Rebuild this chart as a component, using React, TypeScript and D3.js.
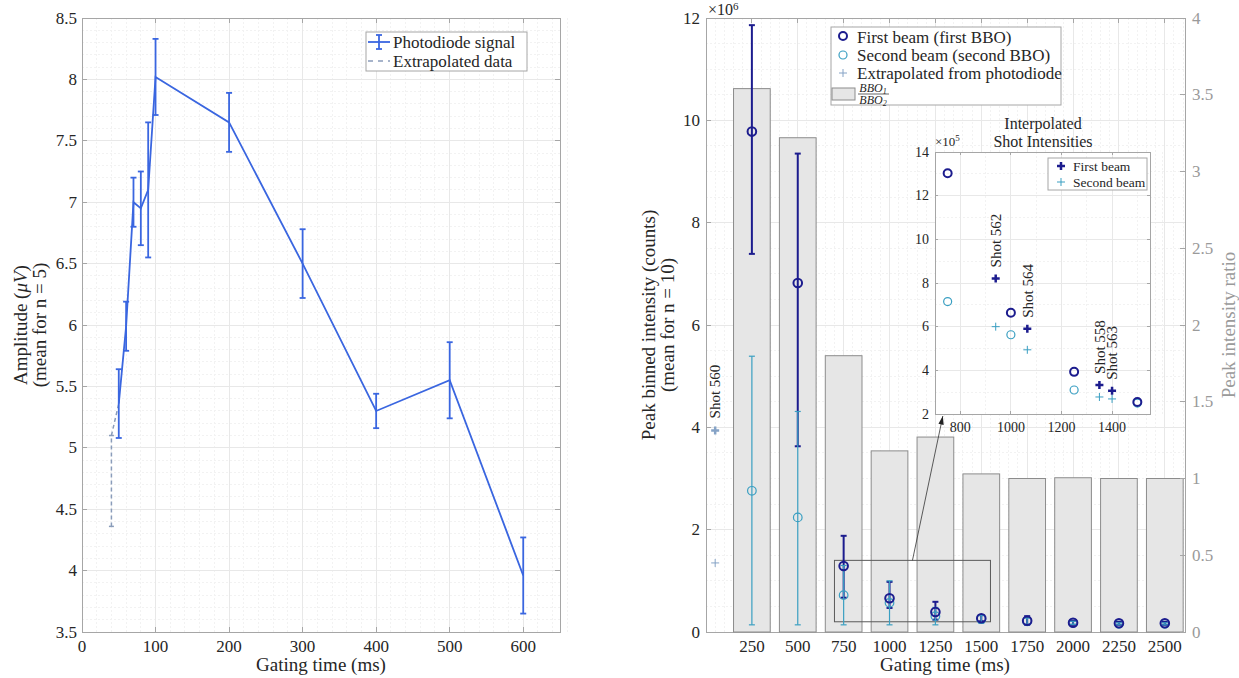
import React from "react";
import * as d3 from "d3";

// ---- left panel: photodiode signal ----
const pdTime = [50, 60, 70, 80, 90, 100, 200, 300, 400, 500, 600];
const pdAmp = [5.36, 5.99, 7.0, 6.95, 7.1, 8.02, 7.65, 6.5, 5.3, 5.55, 3.96];
const pdErr = [0.28, 0.2, 0.2, 0.3, 0.55, 0.31, 0.24, 0.28, 0.14, 0.31, 0.31];
const exTime = [40];
const exAmp = [5.02];
const exLow = [4.36];
const exHigh = [5.1];

// ---- right panel: binned intensities (x1e6) and BBO ratio ----
const gating = [250, 500, 750, 1000, 1250, 1500, 1750, 2000, 2250, 2500];
const ratio = [3.54, 3.22, 1.8, 1.18, 1.27, 1.03, 1.0, 1.005, 1.0, 1.0];
const firstBeam = [9.78, 6.82, 1.29, 0.66, 0.39, 0.27, 0.22, 0.18, 0.17, 0.17];
const firstLow = [7.39, 3.63, 0.67, 0.47, 0.24, 0.21, 0.14, 0.14, 0.14, 0.14];
const firstHigh = [11.86, 9.35, 1.88, 0.98, 0.59, 0.33, 0.31, 0.22, 0.2, 0.2];
const secondBeam = [2.76, 2.24, 0.72, 0.57, 0.31, 0.25, 0.21, 0.18, 0.16, 0.16];
const secondLow = [0.14, 0.14, 0.14, 0.14, 0.14, 0.17, 0.15, 0.15, 0.14, 0.14];
const secondHigh = [5.39, 4.31, 1.3, 1.0, 0.48, 0.33, 0.27, 0.21, 0.18, 0.18];
const extrapTime = [50];
const extrapFirst = [3.94];
const extrapSecond = [1.35];
const extrapName = ["Shot 560"];

// ---- inset (x1e5) ----
const insetTime = [750, 1000, 1250, 1500];
const insetFirst = [13.03, 6.64, 3.93, 2.55];
const insetSecond = [7.15, 5.63, 3.1, 2.5];
const shotTime = [940, 1065, 1350, 1400];
const shotNames = ["Shot 562", "Shot 564", "Shot 558", "Shot 563"];
const shotFirst = [8.21, 5.9, 3.33, 3.06];
const shotSecond = [6.0, 4.94, 2.78, 2.69];

const FONT = "'Liberation Serif', 'Times New Roman', serif";
const AX = "#a6a6a6";
const TXT = "#262626";
const GRAYTXT = "#9a9a9a";
const GRID = "#e8e8e8";
const GRIDMINOR = "#f2f2f2";
const pdBlue = "#3a66e0";
const exColor = "#8a9cba";
const navy = "#1c1c8e";
const teal = "#3a9fc2";
const extrapColor = "#86a3c6";

const rng = (a: number, b: number, s: number) => d3.range(Math.round(a / s), Math.round(b / s) + 1).map((k) => +(k * s).toFixed(6));

function Frame({ x, y, xMajor, xMinor, yMajor, yMinor, tick = 5, rightTicks = true }: any) {
  const [x0, x1] = x.range();
  const [y0, y1] = y.range();
  return (
    <g shapeRendering="crispEdges">
      {xMinor.map((v: number, i: number) => (
        <line key={"xm" + i} x1={x(v)} x2={x(v)} y1={y0} y2={y1} stroke={GRIDMINOR} strokeDasharray="2,2" />
      ))}
      {yMinor.map((v: number, i: number) => (
        <line key={"ym" + i} x1={x0} x2={x1} y1={y(v)} y2={y(v)} stroke={GRIDMINOR} strokeDasharray="2,2" />
      ))}
      {xMajor.map((v: number, i: number) => (
        <line key={"xg" + i} x1={x(v)} x2={x(v)} y1={y0} y2={y1} stroke={GRID} />
      ))}
      {yMajor.map((v: number, i: number) => (
        <line key={"yg" + i} x1={x0} x2={x1} y1={y(v)} y2={y(v)} stroke={GRID} />
      ))}
      {xMajor.map((v: number, i: number) => (
        <g key={"xt" + i}>
          <line x1={x(v)} x2={x(v)} y1={y0} y2={y0 - tick} stroke={AX} />
          <line x1={x(v)} x2={x(v)} y1={y1} y2={y1 + tick} stroke={AX} />
        </g>
      ))}
      {yMajor.map((v: number, i: number) => (
        <g key={"yt" + i}>
          <line x1={x0} x2={x0 + tick} y1={y(v)} y2={y(v)} stroke={AX} />
          {rightTicks && <line x1={x1} x2={x1 - tick} y1={y(v)} y2={y(v)} stroke={AX} />}
        </g>
      ))}
      <rect x={x0} y={y1} width={x1 - x0} height={y0 - y1} fill="none" stroke={AX} />
    </g>
  );
}

function ErrBar({ cx, lo, hi, color, w = 1.5, cap = 3, dash }: any) {
  return (
    <g stroke={color} strokeWidth={w} strokeDasharray={dash}>
      <line x1={cx} x2={cx} y1={lo} y2={hi} />
      <line x1={cx - cap} x2={cx + cap} y1={lo} y2={lo} strokeDasharray="none" />
      <line x1={cx - cap} x2={cx + cap} y1={hi} y2={hi} strokeDasharray="none" />
    </g>
  );
}

function Plus({ cx, cy, s, color, w }: any) {
  return <path d={`M${cx - s},${cy}H${cx + s}M${cx},${cy - s}V${cy + s}`} stroke={color} strokeWidth={w} fill="none" />;
}

function LeftPanel() {
  const x = d3.scaleLinear().domain([0, 650]).range([82, 560]);
  const y = d3.scaleLinear().domain([3.5, 8.5]).range([632, 18]);
  const xMajor = rng(0, 600, 100);
  const yMajor = rng(3.5, 8.5, 0.5);
  const line = d3
    .line<number>()
    .x((_, i) => x(pdTime[i]))
    .y((d) => y(d));
  const exLine = d3
    .line<[number, number]>()
    .x((d) => x(d[0]))
    .y((d) => y(d[1]));
  return (
    <g>
      <Frame x={x} y={y} xMajor={xMajor} xMinor={rng(0, 650, 20)} yMajor={yMajor} yMinor={rng(3.5, 8.5, 0.1)} />
      {exTime.map((t, i) => (
        <g key={"ex" + i}>
          <ErrBar cx={x(t)} lo={y(exLow[i])} hi={y(exHigh[i])} color={exColor} w={1.5} cap={2.5} dash="4,3" />
          <path d={exLine([[t, exHigh[i]], [pdTime[0], pdAmp[0]]]) || ""} stroke={exColor} strokeWidth={1.5} strokeDasharray="4,3" fill="none" />
        </g>
      ))}
      <path d={line(pdAmp) || ""} fill="none" stroke={pdBlue} strokeWidth={1.8} />
      {pdTime.map((t, i) => (
        <ErrBar key={"pe" + i} cx={x(t)} lo={y(pdAmp[i] - pdErr[i])} hi={y(pdAmp[i] + pdErr[i])} color={pdBlue} w={1.8} cap={3} />
      ))}
      <g fontFamily={FONT} fill={TXT} fontSize={17}>
        {xMajor.map((v, i) => (
          <text key={"xl" + i} x={x(v)} y={646} textAnchor="middle" dominantBaseline="central">
            {v}
          </text>
        ))}
        {yMajor.map((v, i) => (
          <text key={"yl" + i} x={77} y={y(v)} textAnchor="end" dominantBaseline="central">
            {v}
          </text>
        ))}
        <text x={321} y={664} textAnchor="middle" dominantBaseline="central" fontSize={19}>
          Gating time (ms)
        </text>
        <g transform="translate(20,325) rotate(-90)">
          <text textAnchor="middle" dominantBaseline="central" fontSize={19}>
            Amplitude (<tspan fontStyle="italic">μV</tspan>)
          </text>
          <text y={19} textAnchor="middle" dominantBaseline="central" fontSize={19}>
            (mean for n = 5)
          </text>
        </g>
      </g>
      <g>
        <rect x={366} y={32} width={161} height={39} fill="#fff" stroke={AX} />
        <line x1={368} x2={390} y1={42} y2={42} stroke={pdBlue} strokeWidth={1.8} />
        <ErrBar cx={379} lo={49} hi={35} color={pdBlue} w={1.8} cap={3} />
        <line x1={368} x2={390} y1={61} y2={61} stroke={exColor} strokeWidth={1.5} strokeDasharray="5,5" />
        <g fontFamily={FONT} fill={TXT} fontSize={17}>
          <text x={393} y={42} dominantBaseline="central">Photodiode signal</text>
          <text x={393} y={61} dominantBaseline="central">Extrapolated data</text>
        </g>
      </g>
    </g>
  );
}

function RightPanel() {
  const x = d3.scaleLinear().domain([0, 2610]).range([706, 1185]);
  const y = d3.scaleLinear().domain([0, 12]).range([632, 18]);
  const yr = d3.scaleLinear().domain([0, 4]).range([632, 18]);
  const yMajor = rng(0, 12, 2);
  const rMajor = rng(0, 4, 0.5);
  const bw = x(200) - x(0);

  // inset scales
  const ix = d3.scaleLinear().domain([700, 1550]).range([935, 1150]);
  const iy = d3.scaleLinear().domain([2, 14]).range([414, 152]);
  const ixMajor = [800, 1000, 1200, 1400];
  const iyMajor = rng(2, 14, 2);

  const arrowStart: [number, number] = [x(1125), y(1.4)];
  const arrowEnd: [number, number] = [ix(731), iy(2) + 2];
  const ang = Math.atan2(arrowEnd[1] - arrowStart[1], arrowEnd[0] - arrowStart[0]);
  const ah = 9;
  const a1 = [arrowEnd[0] - ah * Math.cos(ang - 0.3), arrowEnd[1] - ah * Math.sin(ang - 0.3)];
  const a2 = [arrowEnd[0] - ah * Math.cos(ang + 0.3), arrowEnd[1] - ah * Math.sin(ang + 0.3)];

  return (
    <g>
      <Frame x={x} y={y} xMajor={gating} xMinor={rng(0, 2600, 50)} yMajor={yMajor} yMinor={rng(0, 12, 0.5)} rightTicks={false} />
      {gating.map((g, i) => (
        <rect key={"b" + i} x={x(g) - bw / 2} y={yr(ratio[i])} width={bw} height={yr(0) - yr(ratio[i])} fill="#e6e6e6" stroke="#8c8c8c" strokeWidth={1} />
      ))}
      {rMajor.map((v, i) => (
        <line key={"rt" + i} x1={1185} x2={1180} y1={yr(v)} y2={yr(v)} stroke={AX} shapeRendering="crispEdges" />
      ))}
      {/* zoom box */}
      <rect x={x(700)} y={y(1.4)} width={x(1550) - x(700)} height={y(0.2) - y(1.4)} fill="none" stroke="#5a5a5a" strokeWidth={1} />
      {gating.map((g, i) => (
        <ErrBar key={"fe" + i} cx={x(g)} lo={y(firstLow[i])} hi={y(firstHigh[i])} color={navy} w={2} cap={3} />
      ))}
      {gating.map((g, i) => (
        <ErrBar key={"se" + i} cx={x(g)} lo={y(secondLow[i])} hi={y(secondHigh[i])} color={teal} w={1.2} cap={3} />
      ))}
      {gating.map((g, i) => (
        <circle key={"sc" + i} cx={x(g)} cy={y(secondBeam[i])} r={4.3} fill="none" stroke={teal} strokeWidth={1.2} />
      ))}
      {gating.map((g, i) => (
        <circle key={"fc" + i} cx={x(g)} cy={y(firstBeam[i])} r={4.3} fill="none" stroke={navy} strokeWidth={2} />
      ))}
      {extrapTime.map((t, i) => (
        <g key={"xp" + i}>
          <Plus cx={x(t)} cy={y(extrapFirst[i])} s={4} color={extrapColor} w={2.5} />
          <Plus cx={x(t)} cy={y(extrapSecond[i])} s={4} color={extrapColor} w={1} />
          <text transform={`translate(${x(t)},${y(extrapFirst[i]) - 12}) rotate(-90)`} dy="0.35em" fontFamily={FONT} fontSize={15} fill={TXT}>
            {extrapName[i]}
          </text>
        </g>
      ))}
      {/* arrow */}
      <line x1={arrowStart[0]} y1={arrowStart[1]} x2={arrowEnd[0]} y2={arrowEnd[1]} stroke="#333" strokeWidth={0.8} />
      <path d={`M${arrowEnd[0]},${arrowEnd[1]}L${a1[0]},${a1[1]}L${a2[0]},${a2[1]}Z`} fill="#222" />

      {/* axis text */}
      <g fontFamily={FONT} fontSize={17}>
        {gating.map((g, i) => (
          <text key={"xl" + i} x={x(g)} y={646} textAnchor="middle" dominantBaseline="central" fill={TXT}>
            {g}
          </text>
        ))}
        {yMajor.map((v, i) => (
          <text key={"yl" + i} x={700} y={y(v)} textAnchor="end" dominantBaseline="central" fill={TXT}>
            {v}
          </text>
        ))}
        {rMajor.map((v, i) => (
          <text key={"rl" + i} x={1192} y={yr(v)} dominantBaseline="central" fill={GRAYTXT}>
            {v}
          </text>
        ))}
        <text x={708} y={15} fill={TXT} fontSize={16}>
          ×10<tspan dy={-5} fontSize={11}>6</tspan>
        </text>
        <text x={945} y={664} textAnchor="middle" dominantBaseline="central" fill={TXT} fontSize={19}>
          Gating time (ms)
        </text>
        <g transform="translate(648,325) rotate(-90)" fill={TXT} fontSize={19}>
          <text textAnchor="middle" dominantBaseline="central">Peak binned intensity (counts)</text>
          <text y={19} textAnchor="middle" dominantBaseline="central">(mean for n = 10)</text>
        </g>
        <text transform="translate(1228,325) rotate(-90)" textAnchor="middle" dominantBaseline="central" fill={GRAYTXT} fontSize={19}>
          Peak intensity ratio
        </text>
      </g>

      {/* legend */}
      <g>
        <rect x={831} y={27} width={230} height={78} fill="#fff" stroke={AX} />
        <circle cx={843} cy={36} r={4} fill="none" stroke={navy} strokeWidth={2} />
        <circle cx={843} cy={55} r={4} fill="none" stroke={teal} strokeWidth={1.2} />
        <Plus cx={843} cy={73} s={4} color={extrapColor} w={1} />
        <rect x={832} y={88} width={23} height={12} fill="#e6e6e6" stroke="#8c8c8c" />
        <g fontFamily={FONT} fontSize={17} fill={TXT}>
          <text x={857} y={37} dominantBaseline="central">First beam (first BBO)</text>
          <text x={857} y={55} dominantBaseline="central">Second beam (second BBO)</text>
          <text x={857} y={73} dominantBaseline="central">Extrapolated from photodiode</text>
          <text x={873} y={88} textAnchor="middle" dominantBaseline="central" fontSize={12} fontStyle="italic">
            BBO<tspan fontSize={8} dy={3}>1</tspan>
          </text>
          <line x1={858} x2={889} y1={94} y2={94} stroke={TXT} strokeWidth={0.7} />
          <text x={873} y={100} textAnchor="middle" dominantBaseline="central" fontSize={12} fontStyle="italic">
            BBO<tspan fontSize={8} dy={3}>2</tspan>
          </text>
        </g>
      </g>

      {/* inset */}
      <rect x={935} y={152} width={215} height={262} fill="#fff" />
      <Frame x={ix} y={iy} xMajor={ixMajor} xMinor={rng(700, 1550, 100)} yMajor={iyMajor} yMinor={rng(2, 14, 1)} tick={3} />
      {insetTime.map((t, i) => (
        <circle key={"is" + i} cx={ix(t)} cy={iy(insetSecond[i])} r={4} fill="none" stroke={teal} strokeWidth={1.2} />
      ))}
      {insetTime.map((t, i) => (
        <circle key={"if" + i} cx={ix(t)} cy={iy(insetFirst[i])} r={4} fill="none" stroke={navy} strokeWidth={2} />
      ))}
      {shotTime.map((t, i) => (
        <g key={"sh" + i}>
          <Plus cx={ix(t)} cy={iy(shotFirst[i])} s={4} color={navy} w={2.5} />
          <Plus cx={ix(t)} cy={iy(shotSecond[i])} s={4} color={teal} w={1} />
          <text transform={`translate(${ix(t)},${iy(shotFirst[i]) - 11}) rotate(-90)`} dy="0.35em" fontFamily={FONT} fontSize={15} fill={TXT}>
            {shotNames[i]}
          </text>
        </g>
      ))}
      <g fontFamily={FONT} fill={TXT} fontSize={14}>
        {ixMajor.map((v, i) => (
          <text key={"ixl" + i} x={ix(v)} y={427} textAnchor="middle" dominantBaseline="central">
            {v}
          </text>
        ))}
        {iyMajor.map((v, i) => (
          <text key={"iyl" + i} x={929} y={iy(v)} textAnchor="end" dominantBaseline="central">
            {v}
          </text>
        ))}
        <text x={935} y={146} fontSize={13}>
          ×10<tspan dy={-5} fontSize={9}>5</tspan>
        </text>
        <text x={1043} y={123} textAnchor="middle" dominantBaseline="central" fontSize={16}>
          Interpolated
        </text>
        <text x={1043} y={141} textAnchor="middle" dominantBaseline="central" fontSize={16}>
          Shot Intensities
        </text>
      </g>
      <g>
        <rect x={1048} y={158} width={99} height={32} fill="#fff" stroke={AX} />
        <Plus cx={1061} cy={166} s={4} color={navy} w={2.5} />
        <Plus cx={1061} cy={182} s={4} color={teal} w={1} />
        <g fontFamily={FONT} fontSize={13.5} fill={TXT}>
          <text x={1073} y={166} dominantBaseline="central">First beam</text>
          <text x={1073} y={182} dominantBaseline="central">Second beam</text>
        </g>
      </g>
    </g>
  );
}

export default function App() {
  return (
    <div style={{ position: "absolute", left: 0, top: 0 }}>
      <svg width={1239} height={678} style={{ display: "block", background: "#fff" }}>
        <LeftPanel />
        <RightPanel />
      </svg>
    </div>
  );
}
